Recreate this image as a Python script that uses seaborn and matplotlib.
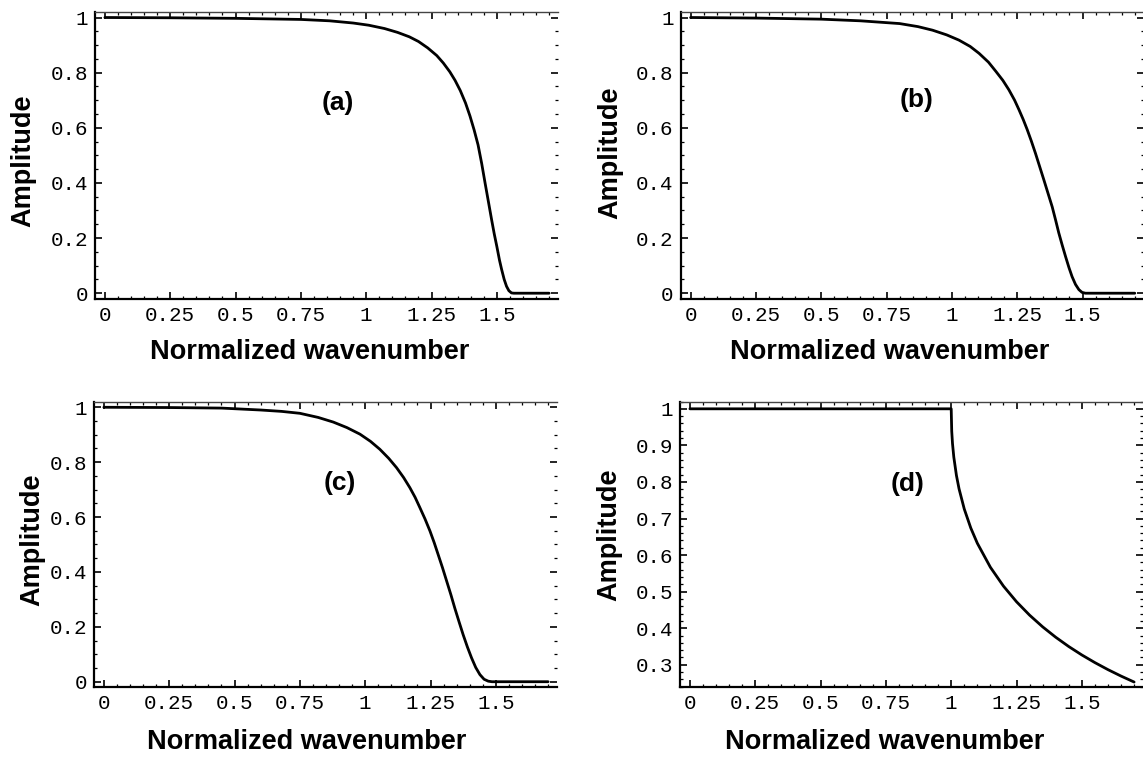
import numpy as np
import pandas as pd
import matplotlib
matplotlib.use("Agg")
import matplotlib.pyplot as plt
from matplotlib.ticker import FixedLocator, MultipleLocator
import seaborn as sns

# ---------------- data ----------------
xa = [0, 0.25, 0.5, 0.75, 0.86, 0.95, 1.01, 1.07, 1.12, 1.165, 1.2, 1.235, 1.27, 1.295, 1.32, 1.34,
      1.36, 1.38, 1.397, 1.413, 1.428, 1.442, 1.455, 1.468, 1.48, 1.49, 1.5, 1.51, 1.518, 1.528,
      1.537, 1.546, 1.556, 1.565, 1.7]
ya = [1.0, 0.999, 0.997, 0.993, 0.988, 0.980, 0.972, 0.960, 0.946, 0.930, 0.913, 0.890, 0.862, 0.835, 0.803, 0.772,
      0.735, 0.690, 0.643, 0.592, 0.538, 0.470, 0.399, 0.330, 0.266, 0.215, 0.169, 0.120, 0.087, 0.050,
      0.025, 0.009, 0.001, 0.0, 0.0]

xb = [0, 0.25, 0.5, 0.65, 0.8, 0.87, 0.926, 0.98, 1.027, 1.07, 1.104, 1.14, 1.168, 1.195, 1.218, 1.24,
      1.257, 1.273, 1.288, 1.304, 1.32, 1.336, 1.352, 1.368, 1.384, 1.397, 1.409, 1.422, 1.435, 1.448,
      1.46, 1.473, 1.486, 1.498, 1.511, 1.7]
yb = [1.0, 0.998, 0.994, 0.988, 0.978, 0.967, 0.954, 0.937, 0.918, 0.895, 0.870, 0.838, 0.805, 0.772, 0.738, 0.700,
      0.665, 0.630, 0.594, 0.552, 0.507, 0.459, 0.411, 0.362, 0.313, 0.265, 0.219, 0.175, 0.133, 0.093,
      0.060, 0.032, 0.013, 0.003, 0.0, 0.0]

xc = [0, 0.25, 0.45, 0.6, 0.68, 0.75, 0.82, 0.878, 0.93, 0.98, 1.02, 1.056, 1.09, 1.12, 1.147, 1.171,
      1.191, 1.209, 1.229, 1.248, 1.264, 1.279, 1.296, 1.312, 1.328, 1.343, 1.359, 1.375, 1.391, 1.407,
      1.423, 1.439, 1.455, 1.471, 1.485, 1.7]
yc = [1.0, 0.999, 0.997, 0.990, 0.985, 0.978, 0.963, 0.946, 0.926, 0.902, 0.876, 0.847, 0.814, 0.780, 0.744, 0.707,
      0.672, 0.635, 0.593, 0.549, 0.507, 0.464, 0.415, 0.366, 0.317, 0.268, 0.219, 0.171, 0.127, 0.087,
      0.052, 0.026, 0.009, 0.002, 0.0, 0.0]

xd = [0, 1.0, 1.002, 1.005, 1.01, 1.02, 1.03, 1.05, 1.075, 1.1, 1.15, 1.2, 1.25, 1.3, 1.35, 1.4, 1.45, 1.5, 1.55, 1.6, 1.65, 1.7]
yd = [1.0, 1.0, 0.9387, 0.9047, 0.8678, 0.8179, 0.7813, 0.7260, 0.6740, 0.6324, 0.5667, 0.5152, 0.4724, 0.4358, 0.4038, 0.3754, 0.3499, 0.3269, 0.3060, 0.2868, 0.2692, 0.2529]

panel_labels = ["(a)", "(b)", "(c)", "(d)"]

x_ticks = [0, 0.25, 0.5, 0.75, 1, 1.25, 1.5]
x_ticklabels = ["0", "0.25", "0.5", "0.75", "1", "1.25", "1.5"]
y_ticks = [0, 0.2, 0.4, 0.6, 0.8, 1]
y_ticklabels = ["0", "0.2", "0.4", "0.6", "0.8", "1"]
yd_ticks = [0.3, 0.4, 0.5, 0.6, 0.7, 0.8, 0.9, 1]
yd_ticklabels = ["0.3", "0.4", "0.5", "0.6", "0.7", "0.8", "0.9", "1"]

xlabel = "Normalized wavenumber"
ylabel = "Amplitude"

# ---------------- styling ----------------
sns.set_theme(style="white")
plt.rcParams["font.family"] = ["Liberation Sans", "DejaVu Sans"]

fig = plt.figure(figsize=(11.43, 7.61), dpi=100)

positions = [
    [0.0831, 0.6071, 0.4051, 0.3775],
    [0.5955, 0.6071, 0.4051, 0.3775],
    [0.0822, 0.0966, 0.4051, 0.3758],
    [0.5949, 0.0966, 0.4051, 0.3758],
]
series = [(xa, ya), (xb, yb), (xc, yc), (xd, yd)]
label_pos = [(0.89, 0.69), (0.863, 0.70), (0.903, 0.723), (0.832, 0.795)]
ylab_coords = [(-0.127, 0.48), (-0.124, 0.51), (-0.106, 0.516), (-0.124, 0.534)]
xlab_coords = [(0.464, -0.138), (0.452, -0.138), (0.46, -0.144), (0.443, -0.144)]

for i, (pos, (xs, ys)) in enumerate(zip(positions, series)):
    ax = fig.add_axes(pos)
    df = pd.DataFrame({"k": xs, "amp": ys})
    sns.lineplot(data=df, x="k", y="amp", ax=ax, color="black", linewidth=2.0,
                 sort=False, estimator=None)
    ax.set_xlim(-0.038, 1.734)
    ax.xaxis.set_major_locator(FixedLocator(x_ticks))
    ax.set_xticklabels(x_ticklabels)
    ax.xaxis.set_minor_locator(MultipleLocator(0.05))
    if i < 3:
        ax.set_ylim(-0.021, 1.021)
        ax.yaxis.set_major_locator(FixedLocator(y_ticks))
        ax.set_yticklabels(y_ticklabels)
        ax.yaxis.set_minor_locator(MultipleLocator(0.05))
    else:
        ax.set_ylim(0.238, 1.02)
        ax.yaxis.set_major_locator(FixedLocator(yd_ticks))
        ax.set_yticklabels(yd_ticklabels)
        ax.yaxis.set_minor_locator(MultipleLocator(0.02))

    ax.tick_params(which="both", direction="in", top=True, right=True,
                   bottom=True, left=True, color="black")
    ax.tick_params(which="major", length=5, width=1.2)
    ax.tick_params(which="minor", length=2.5, width=0.9)
    ax.tick_params(axis="both", which="major", labelsize=15, pad=5)
    for lab in ax.get_xticklabels() + ax.get_yticklabels():
        lab.set_fontfamily("Liberation Mono")
        lab.set_color("black")

    for side in ("left", "bottom"):
        ax.spines[side].set_color("black")
        ax.spines[side].set_linewidth(1.6)
    ax.spines["top"].set_color("#444444")
    ax.spines["top"].set_linewidth(1.0)
    ax.spines["right"].set_visible(False)

    ax.set_xlabel(xlabel, fontsize=19.5, fontweight="bold", color="black")
    ax.set_ylabel(ylabel, fontsize=19.5, fontweight="bold", color="black")
    ax.xaxis.set_label_coords(*xlab_coords[i])
    ax.yaxis.set_label_coords(*ylab_coords[i])

    ax.text(label_pos[i][0], label_pos[i][1], panel_labels[i], fontsize=19,
            fontweight="bold", ha="center", va="center", color="black")
    ax.set_facecolor("white")

fig.savefig("out.png", dpi=100, facecolor="white")
